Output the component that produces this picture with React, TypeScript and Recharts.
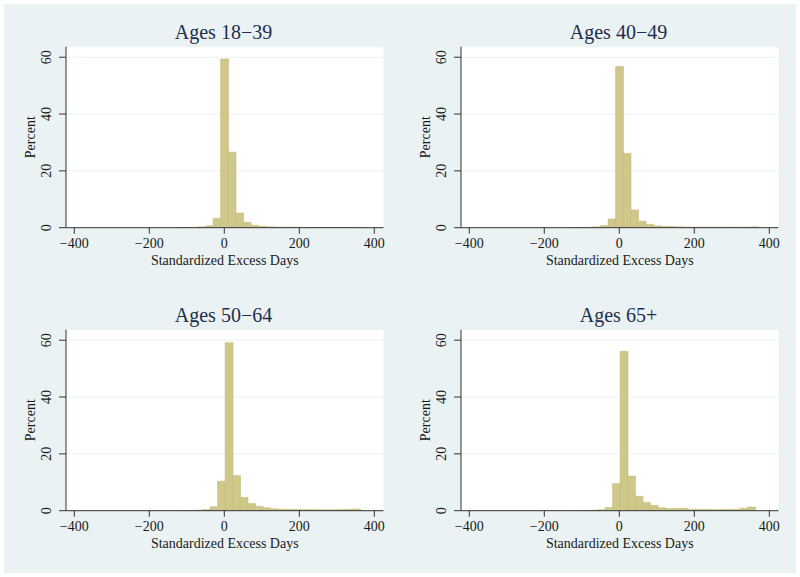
import React from 'react';
import { BarChart, Bar, XAxis, YAxis, CartesianGrid } from 'recharts';

// Bin centres (bin width 20 days)
const binsYounger = [-120, -100, -80, -60, -40, -20, 0, 20, 40, 60, 80, 100, 120, 140, 160, 180, 200, 220, 240, 260, 280, 300, 320, 340, 360];
const binsOlder = [-108, -88, -68, -48, -28, -8, 12, 32, 52, 72, 92, 112, 132, 152, 172, 192, 212, 232, 252, 272, 292, 312, 332, 352];

// Percent of patients in each bin
const pct18to39 = [0.05, 0.08, 0.15, 0.3, 0.7, 3.3, 59.4, 26.6, 5.2, 1.9, 0.85, 0.5, 0.35, 0.25, 0.2, 0.18, 0.15, 0.12, 0.1, 0.1, 0.1, 0.1, 0.1, 0.12, 0.15];
const pct40to49 = [0.05, 0.08, 0.15, 0.3, 0.8, 3.1, 56.7, 26.2, 6.2, 2.3, 1.2, 0.7, 0.5, 0.4, 0.3, 0.25, 0.2, 0.2, 0.18, 0.18, 0.18, 0.18, 0.2, 0.25, 0.3];
const pct50to64 = [0.05, 0.1, 0.2, 0.4, 1.4, 10.4, 59.1, 12.4, 4.7, 2.5, 1.6, 1.0, 0.7, 0.55, 0.5, 0.45, 0.4, 0.4, 0.35, 0.35, 0.35, 0.4, 0.5, 0.6];
const pct65plus = [0.05, 0.1, 0.2, 0.35, 1.1, 9.6, 56.1, 12.2, 5.1, 2.9, 1.9, 1.05, 0.8, 0.85, 0.85, 0.55, 0.5, 0.5, 0.45, 0.45, 0.5, 0.5, 0.9, 1.3];

const xTicks = [-400, -200, 0, 200, 400];
const yTicks = [0, 20, 40, 60];
const titles = ['Ages 18−39', 'Ages 40−49', 'Ages 50−64', 'Ages 65+'];
const xTitle = 'Standardized Excess Days';
const yTitle = 'Percent';

const FONT = '"Liberation Serif", "Times New Roman", serif';
const BG = '#EAF2F3';
const TEXT = '#1a1a1a';
const TITLE = '#1F2E4E';
const BAR_FILL = '#D0C78A';
const BAR_STROKE = '#C3BA79';

const RotTick = (props: any) => {
  const { x, y, payload } = props;
  return (
    <text
      x={x}
      y={y}
      transform={`rotate(-90, ${x}, ${y})`}
      textAnchor="middle"
      fontSize={14}
      fontFamily={FONT}
      fill={TEXT}
    >
      {payload.value}
    </text>
  );
};

const fmtX = (v: number) => String(v).replace('-', '−');

function Panel({ left, top, title, bins, values }: { left: number; top: number; title: string; bins: number[]; values: number[] }) {
  const data = bins.map((x, i) => ({ x, pct: values[i] }));
  return (
    <div style={{ position: 'absolute', left, top, width: 400, height: 290 }}>
      <div
        style={{
          position: 'absolute',
          left: 23.5,
          top: 22,
          width: 400,
          textAlign: 'center',
          fontFamily: FONT,
          fontSize: 20,
          lineHeight: '20px',
          color: TITLE,
          whiteSpace: 'nowrap',
        }}
      >
        {title}
      </div>
      <BarChart
        width={400}
        height={290}
        data={data}
        margin={{ top: 46.7, right: 16.5, bottom: 22.3, left: 6 }}
        barCategoryGap={0}
        barGap={0}
      >
        <CartesianGrid vertical={false} stroke={BG} fill="#FFFFFF" />
        <XAxis
          type="number"
          dataKey="x"
          domain={[-422.1, 424.5]}
          allowDataOverflow
          ticks={xTicks}
          interval={0}
          height={40}
          tickSize={6}
          tickMargin={4}
          stroke="#333333"
          tick={{ fill: TEXT, fontSize: 14, fontFamily: FONT }}
          tickFormatter={fmtX}
          label={{ value: xTitle, position: 'insideBottom', offset: 3, style: { fill: TEXT, fontSize: 14, fontFamily: FONT } }}
        />
        <YAxis
          type="number"
          domain={[0, 63.7]}
          allowDataOverflow
          ticks={yTicks}
          interval={0}
          width={60}
          tickSize={7}
          tickMargin={8}
          stroke="#333333"
          tick={<RotTick />}
          label={{
            value: yTitle,
            angle: -90,
            position: 'insideLeft',
            offset: 24,
            style: { fill: TEXT, fontSize: 14, fontFamily: FONT, textAnchor: 'middle' },
          }}
        />
        <Bar dataKey="pct" fill={BAR_FILL} stroke={BAR_STROKE} strokeWidth={0.5} isAnimationActive={false} />
      </BarChart>
    </div>
  );
}

export default function App() {
  return (
    <div style={{ position: 'absolute', left: 0, top: 0, width: 800, height: 577, background: '#FFFFFF' }}>
      <div style={{ position: 'absolute', left: 4, top: 4, width: 792, height: 569, background: BG }} />
      <Panel left={0} top={0} title={titles[0]} bins={binsYounger} values={pct18to39} />
      <Panel left={395} top={0} title={titles[1]} bins={binsYounger} values={pct40to49} />
      <Panel left={0} top={283} title={titles[2]} bins={binsOlder} values={pct50to64} />
      <Panel left={395} top={283} title={titles[3]} bins={binsOlder} values={pct65plus} />
    </div>
  );
}
